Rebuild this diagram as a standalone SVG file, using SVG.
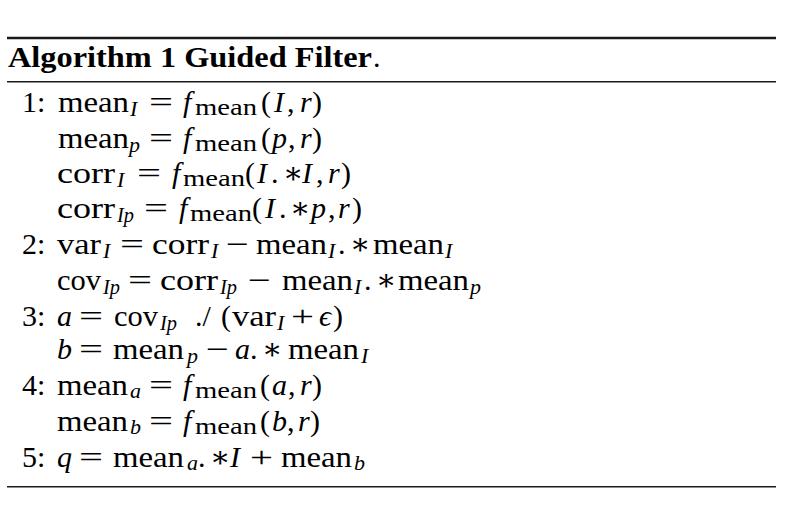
<svg xmlns="http://www.w3.org/2000/svg" width="788" height="516" viewBox="0 0 788 516">
<style>
text{font-family:"Liberation Serif","DejaVu Serif",serif;fill:#000}
.r{font-size:30px}
.i{font-size:30px;font-style:italic}
.sr{font-size:23px}
.si{font-size:22px;font-style:italic}
.ttl{font-size:30px;font-weight:bold}
.rule{stroke:#1a1a1a}
</style>
<rect width="788" height="516" fill="#fff"/>
<g id="rules">
<line class="rule" x1="7" y1="38" x2="776" y2="38" stroke-width="2.6"/>
<line class="rule" x1="7" y1="81.7" x2="776" y2="81.7" stroke-width="1.5"/>
<line class="rule" x1="7" y1="486.7" x2="776" y2="486.7" stroke-width="1.5"/>
</g>
<g id="title">
<text class="ttl" x="8" y="67" textLength="364" lengthAdjust="spacingAndGlyphs">Algorithm 1 Guided Filter</text>
<text class="r" x="373" y="67">.</text>
</g>
<g id="line1">
<text class="r" x="22" y="112">1:</text>
<text class="r" x="58" y="112" textLength="71" lengthAdjust="spacingAndGlyphs">mean</text>
<text class="si" x="130" y="116">I</text>
<text class="r" x="149" y="112" textLength="24" lengthAdjust="spacingAndGlyphs">=</text>
<text class="i" x="183" y="112">f</text>
<text class="sr" x="195" y="115" textLength="62" lengthAdjust="spacingAndGlyphs">mean</text>
<text class="r" x="261" y="112">(</text>
<text class="i" x="274" y="112">I</text>
<text class="r" x="287" y="112">,</text>
<text class="i" x="300" y="112">r</text>
<text class="r" x="312" y="112">)</text>
</g>
<g id="line2">
<text class="r" x="58" y="148" textLength="71" lengthAdjust="spacingAndGlyphs">mean</text>
<text class="si" x="129" y="152">p</text>
<text class="r" x="149" y="148" textLength="24" lengthAdjust="spacingAndGlyphs">=</text>
<text class="i" x="183" y="148">f</text>
<text class="sr" x="195" y="151" textLength="62" lengthAdjust="spacingAndGlyphs">mean</text>
<text class="r" x="261" y="148">(</text>
<text class="i" x="272" y="148">p</text>
<text class="r" x="288" y="148">,</text>
<text class="i" x="300" y="148">r</text>
<text class="r" x="312" y="148">)</text>
</g>
<g id="line3">
<text class="r" x="57" y="183" textLength="58" lengthAdjust="spacingAndGlyphs">corr</text>
<text class="si" x="117" y="187">I</text>
<text class="r" x="137" y="183" textLength="24" lengthAdjust="spacingAndGlyphs">=</text>
<text class="i" x="172" y="183">f</text>
<text class="sr" x="183" y="186" textLength="62" lengthAdjust="spacingAndGlyphs">mean</text>
<text class="r" x="245" y="183">(</text>
<text class="i" x="257" y="183">I</text>
<text class="r" x="271" y="183">.</text>
<text class="r" x="283" y="183">∗</text>
<text class="i" x="302" y="183">I</text>
<text class="r" x="316" y="183">,</text>
<text class="i" x="328" y="183">r</text>
<text class="r" x="341" y="183">)</text>
</g>
<g id="line4">
<text class="r" x="57" y="218" textLength="58" lengthAdjust="spacingAndGlyphs">corr</text>
<text class="si" x="117" y="222" textLength="17" lengthAdjust="spacingAndGlyphs">Ip</text>
<text class="r" x="144" y="218" textLength="24" lengthAdjust="spacingAndGlyphs">=</text>
<text class="i" x="179" y="218">f</text>
<text class="sr" x="190" y="221" textLength="62" lengthAdjust="spacingAndGlyphs">mean</text>
<text class="r" x="252" y="218">(</text>
<text class="i" x="265" y="218">I</text>
<text class="r" x="279" y="218">.</text>
<text class="r" x="290" y="218">∗</text>
<text class="i" x="311" y="218">p</text>
<text class="r" x="328" y="218">,</text>
<text class="i" x="338" y="218">r</text>
<text class="r" x="352" y="218">)</text>
</g>
<g id="line5">
<text class="r" x="22" y="254">2:</text>
<text class="r" x="57" y="254" textLength="44" lengthAdjust="spacingAndGlyphs">var</text>
<text class="si" x="103" y="258">I</text>
<text class="r" x="120" y="254" textLength="24" lengthAdjust="spacingAndGlyphs">=</text>
<text class="r" x="152" y="254" textLength="57" lengthAdjust="spacingAndGlyphs">corr</text>
<text class="si" x="211" y="258">I</text>
<text class="r" x="226" y="254" textLength="23" lengthAdjust="spacingAndGlyphs">−</text>
<text class="r" x="256" y="254" textLength="71" lengthAdjust="spacingAndGlyphs">mean</text>
<text class="si" x="328" y="258">I</text>
<text class="r" x="338" y="254">.</text>
<text class="r" x="350" y="254">∗</text>
<text class="r" x="373" y="254" textLength="71" lengthAdjust="spacingAndGlyphs">mean</text>
<text class="si" x="445" y="258">I</text>
</g>
<g id="line6">
<text class="r" x="57" y="290" textLength="44" lengthAdjust="spacingAndGlyphs">cov</text>
<text class="si" x="103" y="294" textLength="17" lengthAdjust="spacingAndGlyphs">Ip</text>
<text class="r" x="128" y="290" textLength="24" lengthAdjust="spacingAndGlyphs">=</text>
<text class="r" x="160" y="290" textLength="58" lengthAdjust="spacingAndGlyphs">corr</text>
<text class="si" x="220" y="294" textLength="17" lengthAdjust="spacingAndGlyphs">Ip</text>
<text class="r" x="248" y="290" textLength="23" lengthAdjust="spacingAndGlyphs">−</text>
<text class="r" x="282" y="290" textLength="71" lengthAdjust="spacingAndGlyphs">mean</text>
<text class="si" x="354" y="294">I</text>
<text class="r" x="364" y="290">.</text>
<text class="r" x="376" y="290">∗</text>
<text class="r" x="398" y="290" textLength="71" lengthAdjust="spacingAndGlyphs">mean</text>
<text class="si" x="470" y="294">p</text>
</g>
<g id="line7">
<text class="r" x="22" y="326">3:</text>
<text class="i" x="57" y="326">a</text>
<text class="r" x="79" y="326" textLength="24" lengthAdjust="spacingAndGlyphs">=</text>
<text class="r" x="114" y="326" textLength="44" lengthAdjust="spacingAndGlyphs">cov</text>
<text class="si" x="160" y="330" textLength="17" lengthAdjust="spacingAndGlyphs">Ip</text>
<text class="r" x="195" y="326">./</text>
<text class="r" x="221" y="326">(</text>
<text class="r" x="232" y="326" textLength="44" lengthAdjust="spacingAndGlyphs">var</text>
<text class="si" x="277" y="330">I</text>
<text class="r" x="291" y="326" textLength="23" lengthAdjust="spacingAndGlyphs">+</text>
<text class="i" x="319" y="326">ϵ</text>
<text class="r" x="333" y="326">)</text>
</g>
<g id="line8">
<text class="i" x="57" y="359">b</text>
<text class="r" x="79" y="359" textLength="24" lengthAdjust="spacingAndGlyphs">=</text>
<text class="r" x="113" y="359" textLength="71" lengthAdjust="spacingAndGlyphs">mean</text>
<text class="si" x="187" y="363">p</text>
<text class="r" x="206" y="359" textLength="23" lengthAdjust="spacingAndGlyphs">−</text>
<text class="i" x="235" y="359">a</text>
<text class="r" x="250" y="359">.</text>
<text class="r" x="262" y="359">∗</text>
<text class="r" x="288" y="359" textLength="71" lengthAdjust="spacingAndGlyphs">mean</text>
<text class="si" x="361" y="363">I</text>
</g>
<g id="line9">
<text class="r" x="22" y="395">4:</text>
<text class="r" x="57" y="395" textLength="71" lengthAdjust="spacingAndGlyphs">mean</text>
<text class="si" x="130" y="398">a</text>
<text class="r" x="149" y="395" textLength="24" lengthAdjust="spacingAndGlyphs">=</text>
<text class="i" x="183" y="395">f</text>
<text class="sr" x="195" y="398" textLength="62" lengthAdjust="spacingAndGlyphs">mean</text>
<text class="r" x="260" y="395">(</text>
<text class="i" x="272" y="395">a</text>
<text class="r" x="288" y="395">,</text>
<text class="i" x="300" y="395">r</text>
<text class="r" x="312" y="395">)</text>
</g>
<g id="line10">
<text class="r" x="57" y="431" textLength="71" lengthAdjust="spacingAndGlyphs">mean</text>
<text class="si" x="130" y="434">b</text>
<text class="r" x="149" y="431" textLength="24" lengthAdjust="spacingAndGlyphs">=</text>
<text class="i" x="183" y="431">f</text>
<text class="sr" x="195" y="434" textLength="62" lengthAdjust="spacingAndGlyphs">mean</text>
<text class="r" x="260" y="431">(</text>
<text class="i" x="272" y="431">b</text>
<text class="r" x="287" y="431">,</text>
<text class="i" x="298" y="431">r</text>
<text class="r" x="310" y="431">)</text>
</g>
<g id="line11">
<text class="r" x="22" y="467">5:</text>
<text class="i" x="57" y="467">q</text>
<text class="r" x="79" y="467" textLength="24" lengthAdjust="spacingAndGlyphs">=</text>
<text class="r" x="113" y="467" textLength="71" lengthAdjust="spacingAndGlyphs">mean</text>
<text class="si" x="187" y="470">a</text>
<text class="r" x="198" y="467">.</text>
<text class="r" x="210" y="467">∗</text>
<text class="i" x="230" y="467">I</text>
<text class="r" x="250" y="467" textLength="23" lengthAdjust="spacingAndGlyphs">+</text>
<text class="r" x="281" y="467" textLength="71" lengthAdjust="spacingAndGlyphs">mean</text>
<text class="si" x="354" y="470">b</text>
</g>
</svg>
